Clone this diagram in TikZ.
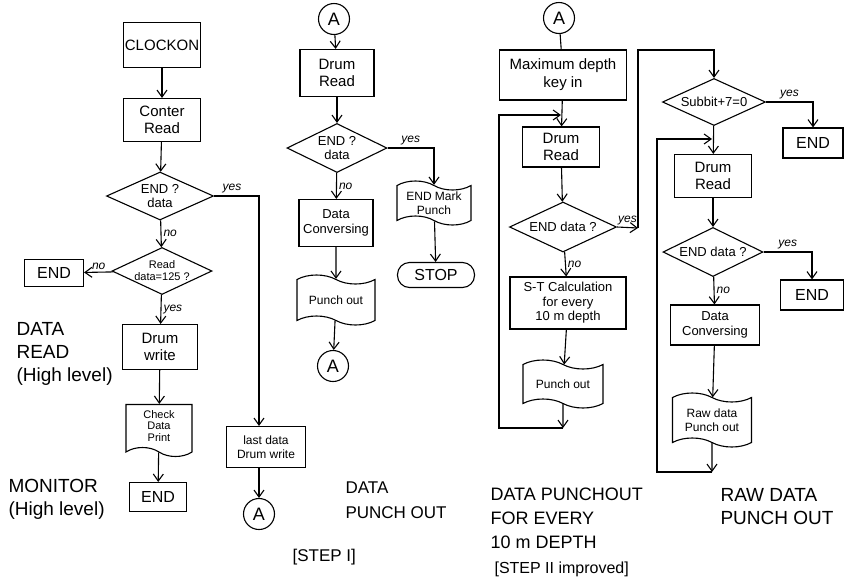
\documentclass[tikz,border=0pt]{standalone}
\usepackage{fontspec}
\setmainfont{Liberation Sans}
\usetikzlibrary{arrows.meta,shapes.geometric,shapes.symbols,calc}
\begin{document}
\begin{tikzpicture}[x=1pt,y=-1pt,line width=1.1pt,
  box/.style={draw,rectangle,inner sep=1pt,align=center,font=\fontsize{15}{17}\selectfont},
  dec/.style={draw,diamond,aspect=2.2,inner sep=0pt,align=center,font=\fontsize{13}{13.5}\selectfont},
  card/.style={draw,tape,tape bend top=out and in,tape bend bottom=out and in,tape bend height=9pt,inner sep=1pt,align=center,font=\fontsize{12}{13.5}\selectfont},
  doc/.style={draw,tape,tape bend top=none,tape bend bottom=out and in,tape bend height=9pt,inner sep=1pt,align=center,font=\fontsize{11}{11.5}\selectfont},
  conn/.style={draw,circle,minimum size=31pt,inner sep=0pt,font=\fontsize{18}{18}\selectfont},
  term/.style={draw,rectangle,rounded corners=12pt,inner sep=1pt,font=\fontsize{16}{16}\selectfont},
  arr/.style={-{Straight Barb[length=7pt,width=10pt]}},
  lbl/.style={font=\itshape\fontsize{12}{12}\selectfont,inner sep=2pt},
  captxt/.style={align=left,anchor=north west,inner sep=0pt,font=\fontsize{19}{23}\selectfont}
]
\useasboundingbox (0,0) rectangle (847,582);

% ---------- left column ----------
\node[box,minimum width=75pt,minimum height=45pt] (clock) at (162,45) {CLOCKON};
\node[box,minimum width=77pt,minimum height=43pt] (cread) at (162,120) {Conter\\Read};
\node[dec,minimum width=107pt,minimum height=48pt] (d1) at (160,196) {END ?\\data};
\node[dec,minimum width=100pt,minimum height=47pt,font=\fontsize{11}{12}\selectfont] (d2) at (162,271) {Read\\data=125 ?};
\node[box,minimum width=59pt,minimum height=27pt,font=\fontsize{16}{16}\selectfont] (end1) at (54,273) {END};
\node[box,minimum width=75pt,minimum height=45pt] (dw) at (160,347) {Drum\\write};
\node[doc,minimum width=66pt,minimum height=52pt] (chk) at (159,426) {Check\\Data\\Print};
\node[box,minimum width=57pt,minimum height=29pt,font=\fontsize{16}{16}\selectfont] (end2) at (158,497) {END};
\node[box,minimum width=79pt,minimum height=41pt,font=\fontsize{12}{14}\selectfont] (ld) at (266,447) {last data\\Drum write};
\node[conn] (A2) at (259,514) {A};

\draw[arr] (clock) -- (cread);
\draw[arr] (cread) -- (d1);
\draw[arr] (d1) -- node[lbl,right] {no} (d2);
\draw[arr] (d2) -- node[lbl,above] {no} (end1);
\draw[arr] (d2) -- node[lbl,right] {yes} (dw);
\draw[arr] (dw) -- (chk);
\draw[arr] (chk) -- (end2);
\draw[arr] (d1.east) -| node[lbl,pos=0.2,above] {yes} (ld.north -| A2);
\draw[arr] (ld.south -| A2) -- (A2);

% ---------- middle column ----------
\node[conn] (A1) at (334,19) {A};
\node[box,minimum width=74pt,minimum height=47pt] (dr1) at (337,73) {Drum\\Read};
\node[dec,minimum width=100pt,minimum height=49pt] (d3) at (337,148) {END ?\\data};
\node[card,minimum width=74pt,minimum height=44pt] (emp) at (434,203) {END Mark\\Punch};
\node[term,minimum width=77pt,minimum height=25pt] (stop) at (436,275) {STOP};
\node[box,minimum width=74pt,minimum height=47pt,font=\fontsize{13}{15}\selectfont] (dc1) at (336,223) {Data\\Conversing};
\node[card,minimum width=78pt,minimum height=50pt] (po1) at (336,300) {Punch out};
\node[conn] (A3) at (333,366) {A};

\draw[arr] (A1) -- (dr1);
\draw[arr] (dr1) -- (d3);
\draw[arr] (d3.east) -| node[lbl,pos=0.25,above] {yes} (emp);
\draw[arr] (emp) -- (stop);
\draw[arr] (d3) -- node[lbl,right] {no} (dc1);
\draw[arr] (dc1) -- (po1);
\draw[arr] (po1) -- (A3);

% ---------- middle-right column ----------
\node[conn] (A4) at (559,18) {A};
\node[box,minimum width=127pt,minimum height=50pt,font=\fontsize{15}{18}\selectfont] (mdk) at (563,75) {Maximum depth\\key in};
\node[box,minimum width=77pt,minimum height=40pt] (dr2) at (561,147) {Drum\\Read};
\node[dec,minimum width=107pt,minimum height=50pt] (d4) at (563,227) {END data ?};
\node[box,minimum width=116pt,minimum height=52pt,font=\fontsize{13}{14.5}\selectfont] (st) at (568,303) {S-T Calculation\\for every\\10 m depth};
\node[card,minimum width=80pt,minimum height=48pt] (po2) at (563,384) {Punch out};
\coordinate (lb2) at (563,428);
\coordinate (l2b) at (499,115);
\coordinate (l2c) at (561,115);
\coordinate (j1) at (638,228);
\coordinate (j2) at (638,50);

\draw (A4) -- (mdk);
\draw[arr] (mdk) -- (dr2);
\draw[arr] (dr2) -- (d4);
\draw[arr] (d4) -- node[lbl,right] {no} (st);
\draw[arr] (st) -- (po2);
\draw[arr] (po2) -- (lb2);
\draw[arr] (lb2) -| (l2b) -- (l2c);
\draw[arr] (d4.east) -- node[lbl,above] {yes} (j1);

% ---------- right column ----------
\node[dec,minimum width=103pt,minimum height=47pt] (d5) at (714,102) {Subbit+7=0};
\node[box,minimum width=60pt,minimum height=30pt,font=\fontsize{16}{16}\selectfont] (end3) at (813,143) {END};
\node[box,minimum width=77pt,minimum height=43pt] (dr3) at (713,176) {Drum\\Read};
\node[dec,minimum width=100pt,minimum height=49pt] (d6) at (713,252) {END data ?};
\node[box,minimum width=63pt,minimum height=30pt,font=\fontsize{16}{16}\selectfont] (end4) at (812,295) {END};
\node[box,minimum width=89pt,minimum height=40pt,font=\fontsize{13}{15}\selectfont] (dc2) at (715,325) {Data\\Conversing};
\node[card,minimum width=79pt,minimum height=54pt] (po3) at (712,420) {Raw data\\Punch out};
\coordinate (lb3) at (712,472);
\coordinate (l3b) at (657,139);
\coordinate (l3c) at (712,139);

\draw[arr] (j1) -- (j2) -| (d5.north);
\draw[arr] (d5.east) -| node[lbl,pos=0.25,above] {yes} (end3);
\draw[arr] (d5) -- (dr3);
\draw[arr] (dr3) -- (d6);
\draw[arr] (d6.east) -| node[lbl,pos=0.25,above] {yes} (end4);
\draw[arr] (d6) -- node[lbl,right] {no} (dc2);
\draw[arr] (dc2) -- (po3);
\draw[arr] (po3) -- (lb3);
\draw[arr] (lb3) -| (l3b) -- (l3c);

% ---------- captions ----------
\node[captxt] (capdr) at (16,322) {DATA\\READ\\(High level)};
\node[captxt] (capmon) at (8,479) {MONITOR\\(High level)};
\node[captxt,font=\fontsize{17}{25}\selectfont] (capdp) at (345,481) {DATA\\PUNCH OUT};
\node[captxt,font=\fontsize{17}{17}\selectfont] (capst1) at (292,549) {[STEP I]};
\node[captxt,font=\fontsize{18}{24}\selectfont] (capdpe) at (490,487) {DATA PUNCHOUT\\FOR EVERY\\10 m DEPTH};
\node[captxt,font=\fontsize{16}{16}\selectfont] (capst2) at (494,561) {[STEP II improved]};
\node[captxt] (capraw) at (720,488) {RAW DATA\\PUNCH OUT};
\end{tikzpicture}
\end{document}
